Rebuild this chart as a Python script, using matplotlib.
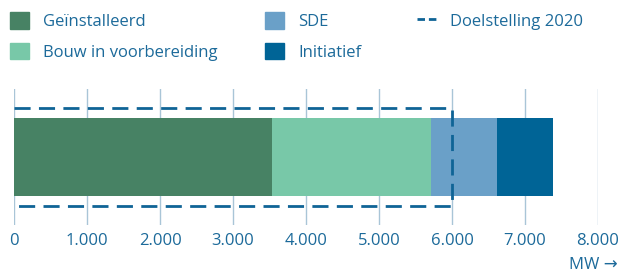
import matplotlib
matplotlib.use("Agg")
import matplotlib.pyplot as plt
from matplotlib.patches import Patch
from matplotlib.lines import Line2D

plt.rcParams['font.family'] = ['Open Sans', 'DejaVu Sans']

categories = ["Geïnstalleerd", "Bouw in voorbereiding", "SDE", "Initiatief"]
values = [3530, 2180, 910, 770]
colors = ["#478264", "#78c8a8", "#6aa0c8", "#006496"]
target_label = "Doelstelling 2020"
target_value = 6000
xticks = [0, 1000, 2000, 3000, 4000, 5000, 6000, 7000, 8000]
xticklabels = ["0", "1.000", "2.000", "3.000", "4.000", "5.000", "6.000", "7.000", "8.000"]
unit_label = "MW →"

text_color = "#1c6a9a"
grid_color = "#a9c5d7"
dash_color = "#0f6496"

W, H = 623, 276
fig = plt.figure(figsize=(W / 100, H / 100), dpi=100)
ax = fig.add_axes([14 / W, (H - 225) / H, 584 / W, 136 / H])

left = 0
for cat, v, c in zip(categories, values, colors):
    ax.barh(0, v, left=left, height=1.153, color=c, zorder=2, label=cat)
    left += v

ax.plot([0, target_value, target_value, 0], [0.72, 0.72, -0.72, -0.72],
        color=dash_color, lw=2, dashes=(5.8, 3.0), dash_capstyle='butt',
        solid_joinstyle='miter', zorder=3)

ax.set_xlim(0, 8000)
ax.set_ylim(-1, 1)
ax.set_yticks([])
ax.set_xticks(xticks)
ax.set_xticklabels(xticklabels)
ax.tick_params(axis='x', length=0, pad=6, labelsize=12, labelcolor=text_color)
ax.grid(axis='x', color=grid_color, lw=1, zorder=0)
for s in ax.spines.values():
    s.set_visible(False)
ax.axvline(0, color="#3b7ba3", lw=1.2, zorder=1)

fig.text(618 / W, 1 - 265 / H, unit_label, ha='right', va='center',
         fontsize=12, color=text_color)

common = dict(frameon=False, fontsize=12, handlelength=1.14, handleheight=1.14,
              handletextpad=0.84, labelspacing=0.78, borderpad=0, borderaxespad=0,
              labelcolor=text_color, loc='center left')
h1 = [Patch(color=colors[0]), Patch(color=colors[1])]
h2 = [Patch(color=colors[2]), Patch(color=colors[3])]
h3 = [Line2D([], [], color=dash_color, lw=2, dashes=(2.7, 1.4), dash_capstyle='butt')]
fig.legend(h1, categories[0:2], bbox_to_anchor=(10 / W, 1 - 36.5 / H), **common)
fig.legend(h2, categories[2:4], bbox_to_anchor=(265 / W, 1 - 36.5 / H), **common)
fig.legend(h3, [target_label], bbox_to_anchor=(417 / W, 1 - 21 / H), **common)

fig.savefig("out.png", dpi=100)
